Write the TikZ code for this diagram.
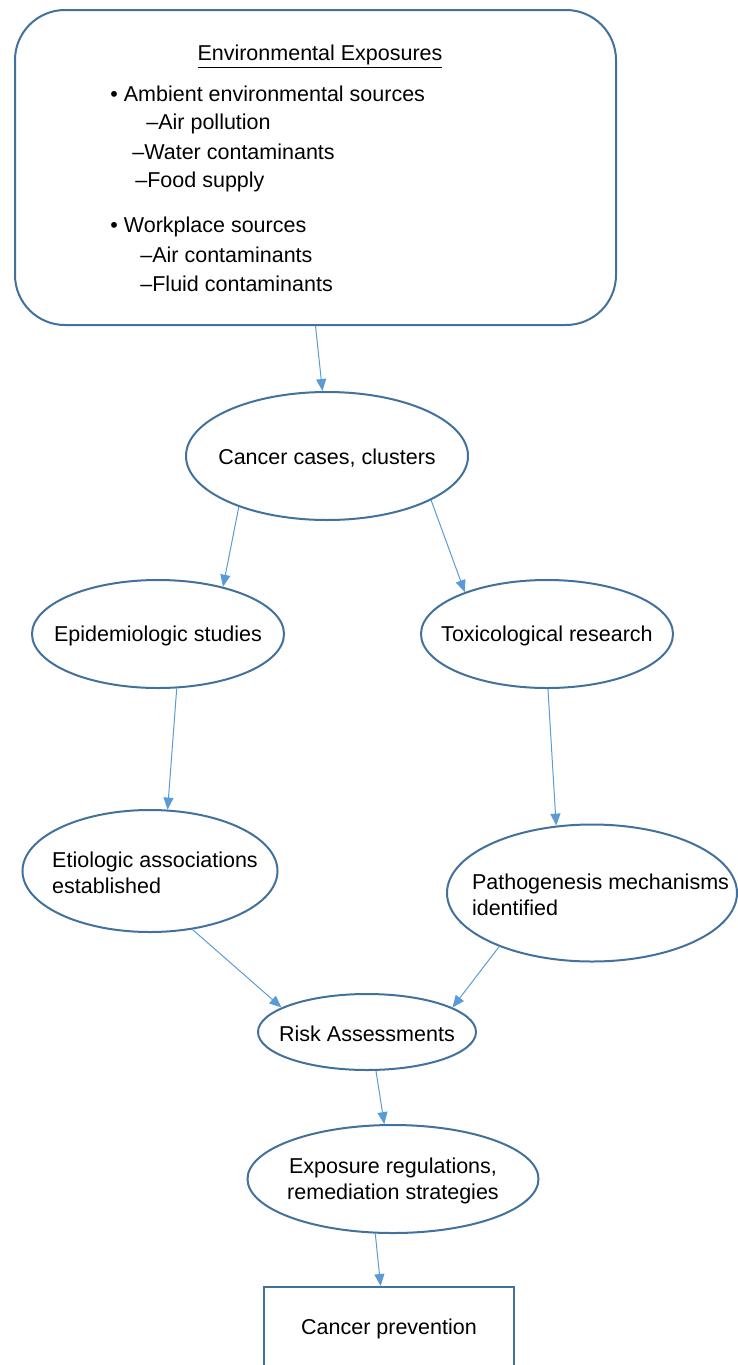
\documentclass[tikz,border=0pt]{standalone}
\usepackage{fontspec}
\setmainfont{Liberation Sans}
\usetikzlibrary{shapes.geometric,arrows.meta}

\definecolor{ovalblue}{RGB}{65,113,156}
\definecolor{arrowblue}{RGB}{91,155,213}

\begin{document}
\begin{tikzpicture}[x=0.5pt, y=-0.5pt,
    font=\fontsize{10.75}{13}\selectfont,
    every label/.style={yshift=-1pt},
    oval/.style={ellipse, draw=ovalblue, line width=1pt, inner sep=0pt},
    box/.style={draw=ovalblue, line width=1pt, inner sep=0pt},
    entry/.style={anchor=west, inner sep=0pt},
    arrowline/.style={draw=arrowblue, line width=0.5pt, -{Triangle[length=6pt,width=5pt]}}]
  \useasboundingbox (0,0) rectangle (738,1365);
  % exposure sources
  \node[box, rounded corners=25pt, minimum width=300.5pt, minimum height=157.5pt] (env) at (315.5,167.5) {};
  \node[inner sep=0pt] (title) at (320,57) {\underline{Environmental Exposures}};
  \node[entry] (amb) at (110,94) {\textbullet\ Ambient environmental sources};
  \node[entry] (air) at (146,124) {--Air pollution};
  \node[entry] (water) at (132,152) {--Water contaminants};
  \node[entry] (food) at (135,182) {--Food supply};
  \node[entry] (work) at (110,227) {\textbullet\ Workplace sources};
  \node[entry] (aircont) at (140,255) {--Air contaminants};
  \node[entry] (fluid) at (140,284) {--Fluid contaminants};
  % studies and findings
  \node[oval, minimum width=141pt, minimum height=64pt, label=center:{Cancer cases, clusters}] (cases) at (327,456) {};
  \node[oval, minimum width=126pt, minimum height=54pt, label=center:{Epidemiologic studies}] (epi) at (158,634) {};
  \node[oval, minimum width=126pt, minimum height=54pt, label=center:{Toxicological research}] (tox) at (547,634) {};
  \node[oval, minimum width=127.5pt, minimum height=61pt,
    label={[align=left, xshift=2.5pt]center:Etiologic associations\\established}] (etio) at (150,871) {};
  \node[oval, minimum width=145pt, minimum height=68.5pt,
    label={[align=left, xshift=4.25pt]center:Pathogenesis mechanisms\\identified}] (patho) at (592,893) {};
  \node[oval, minimum width=109pt, minimum height=38pt, label=center:{Risk Assessments}] (risk) at (367,1032) {};
  \node[oval, minimum width=145.5pt, minimum height=54pt,
    label={[align=center]center:Exposure regulations,\\remediation strategies}] (expo) at (393,1179) {};
  \node[box, minimum width=125pt, minimum height=42pt] (prev) at (389,1329) {Cancer prevention};
  % arrows
  \draw[arrowline] (env.south) -- (cases.94);
  \draw[arrowline] (cases.210) -- (epi.36);
  \draw[arrowline] (cases.337) -- (tox.153);
  \draw[arrowline] (epi.289) -- (etio.74);
  \draw[arrowline] (tox.271) -- (patho.118);
  \draw[arrowline] (etio.306) -- (risk.164);
  \draw[arrowline] (patho.210) -- (risk.16);
  \draw[arrowline] (risk.283) -- (expo.99);
  \draw[arrowline] (expo.252) -- (prev.101);
\end{tikzpicture}
\end{document}
